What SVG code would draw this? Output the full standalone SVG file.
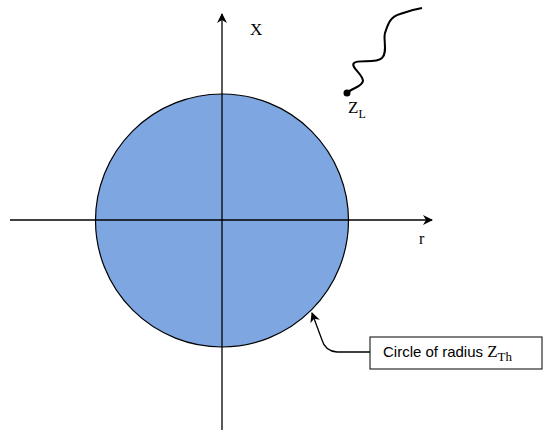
<svg xmlns="http://www.w3.org/2000/svg" width="543" height="431" viewBox="0 0 543 431">
<style>
.ax{stroke:#000;stroke-width:1.3;fill:none}
.serif{font-family:"Liberation Serif","DejaVu Serif",serif;fill:#000}
.sans{font-family:"Liberation Sans",Arial,sans-serif;fill:#000}
</style>
<defs>
<marker id="ah" markerWidth="10" markerHeight="10" refX="9" refY="5" orient="auto" markerUnits="userSpaceOnUse">
<path d="M0,0 L10,5 L0,10 L3,5 Z" fill="#000"/>
</marker>
</defs>
<rect width="543" height="431" fill="#fff"/>
<g id="circle">
<circle cx="222" cy="220.5" r="126.5" fill="#7ea6e0" stroke="#000" stroke-width="1.2"/>
</g>
<g id="connectors">
<line class="ax" x1="222" y1="430" x2="222" y2="14" marker-end="url(#ah)"/>
<line class="ax" x1="10" y1="220" x2="432" y2="220" marker-end="url(#ah)"/>
<path class="ax" d="M370,352 L337,352 Q325,351 322,340 L312,313" marker-end="url(#ah)"/>
</g>
<g id="label-x"><text class="serif" x="250" y="35" font-size="17">X</text></g>
<g id="label-r"><text class="serif" x="419" y="244" font-size="16">r</text></g>
<g id="zl">
<path d="M347,93 C352,88 362,87 363,81 C363,74 350,67 354,63 C358,59 376,64 382,58 C388,52 383,40 385,33 C388,24 390,17 400,14 C408,11 416,9 422,8" fill="none" stroke="#000" stroke-width="2"/>
<circle cx="347" cy="93" r="3.5" fill="#000"/>
<text class="serif" x="348" y="113" font-size="17">Z<tspan font-size="12" dy="5">L</tspan></text>
</g>
<g id="callout">
<rect x="370" y="337" width="172" height="32" fill="#fff" stroke="#000" stroke-width="1"/>
<text x="383" y="357" font-size="15"><tspan class="sans">Circle of radius </tspan><tspan class="serif" font-size="17">Z</tspan><tspan class="serif" font-size="13" dy="4">Th</tspan></text>
</g>
</svg>
